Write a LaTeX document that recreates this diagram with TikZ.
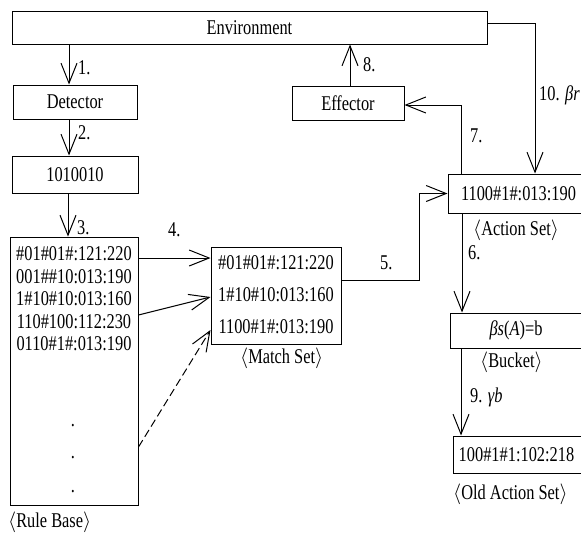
\documentclass[tikz,border=0pt]{standalone}
\usepackage{fontspec}
\setmainfont{Liberation Serif}[FakeStretch=0.78]
\usetikzlibrary{arrows.meta}
\begin{document}
\begin{tikzpicture}[x=1pt,y=-1pt,
  every node/.style={font=\fontsize{21}{24}\selectfont,inner sep=0pt},
  box/.style={draw,line width=1pt},
  arr/.style={line width=1pt,-{Straight Barb[length=20pt,width=16pt,line width=1pt]}},
  lbl/.style={anchor=west}]
\useasboundingbox (0,0) rectangle (581,538);
\clip (0,0) rectangle (581,538);
% boxes
\node[box,minimum width=475pt,minimum height=33pt] (env) at (249.5,27.5) {Environment};
\node[box,minimum width=124pt,minimum height=34pt] (det) at (75,102) {Detector};
\node[box,minimum width=126pt,minimum height=37pt] (bin) at (75,174.5) {1010010};
\node[box,minimum width=128pt,minimum height=268pt] (rb) at (74,371) {};
\node[box,minimum width=130pt,minimum height=97pt] (ms) at (276,295.5) {};
\node[box,minimum width=112pt,minimum height=34pt] (eff) at (348,103) {Effector};
\node[box,minimum width=152pt,minimum height=39pt] (as) at (524,193.5) {};
\node[box,minimum width=150pt,minimum height=35pt] (bk) at (525,330.5) {};
\node[box,minimum width=147pt,minimum height=37pt] (oas) at (526.5,454.5) {};
% rule base contents
\node (r1) at (74,254) {\#01\#01\#:121:220};
\node (r2) at (74,277) {001\#\#10:013:190};
\node (r3) at (74,299) {1\#10\#10:013:160};
\node (r4) at (74,322) {110\#100:112:230};
\node (r5) at (74,344) {0110\#1\#:013:190};
\node (d1) at (73,426) {.};
\node (d2) at (73,458) {.};
\node (d3) at (73,492) {.};
% match set contents
\node (m1) at (276,263) {\#01\#01\#:121:220};
\node (m2) at (276,295) {1\#10\#10:013:160};
\node (m3) at (276,327) {1100\#1\#:013:190};
% right column contents
\node (a1) at (518.5,194) {1100\#1\#:013:190};
\node (b1) at (516,330) {\textit{β}\textit{s}(\textit{A})=b};
\node (o1) at (516.5,455) {100\#1\#1:102:218};
% captions
\node[lbl] (crb) at (8,522) {$\langle$Rule Base$\rangle$};
\node[lbl] (cms) at (240,358) {$\langle$Match Set$\rangle$};
\node[lbl] (cas) at (473,230) {$\langle$Action Set$\rangle$};
\node[lbl] (cbk) at (480,362) {$\langle$Bucket$\rangle$};
\node[lbl] (coa) at (453,494) {$\langle$Old Action Set$\rangle$};
% helper coordinates
\coordinate (p1) at (69,0);
\coordinate (p3) at (68,0);
\coordinate (p8) at (350,0);
\coordinate (p7) at (461,105);
\coordinate (p10) at (535,23);
\coordinate (p5) at (419,280);
\coordinate (p6) at (462,0);
\coordinate (p9) at (461,0);
\coordinate (q1) at (0,258);
\coordinate (q2) at (0,315);
\coordinate (q3) at (0,297);
\coordinate (q4) at (0,447);
\coordinate (q5) at (0,330);
% connectors
\draw[arr] (p1 |- env.south) -- (p1 |- det.north);
\draw[arr] (p1 |- det.south) -- (p1 |- bin.north);
\draw[arr] (p3 |- bin.south) -- (p3 |- rb.north);
\draw[arr] (q1 -| rb.east) -- (q1 -| ms.west);
\draw[arr] (q2 -| rb.east) -- (q3 -| ms.west);
\draw[arr,dash pattern=on 8pt off 4pt] (q4 -| rb.east) -- (q5 -| ms.west);
\draw[arr] (p5 -| ms.east) -- (p5) |- (as.west);
\draw[arr] (p6 |- as.south) -- (p6 |- bk.north);
\draw[arr] (p9 |- bk.south) -- (p9 |- oas.north);
\draw[arr] (p7 |- as.north) -- (p7) -- (p7 -| eff.east);
\draw[arr] (p8 |- eff.north) -- (p8 |- env.south);
\draw[arr] (p10 -| env.east) -- (p10) -- (p10 |- as.north);
% step labels
\node[lbl] (l1) at (78,68) {1.};
\node[lbl] (l2) at (78,133) {2.};
\node[lbl] (l3) at (77,228) {3.};
\node[lbl] (l4) at (168,230) {4.};
\node[lbl] (l5) at (380,263) {5.};
\node[lbl] (l6) at (468,253) {6.};
\node[lbl] (l7) at (470,136) {7.};
\node[lbl] (l8) at (363,65) {8.};
\node[lbl] (l9) at (470,397) {9. \textit{γb}};
\node[lbl] (l10) at (539,95) {10. \textit{βr}};
\end{tikzpicture}
\end{document}
